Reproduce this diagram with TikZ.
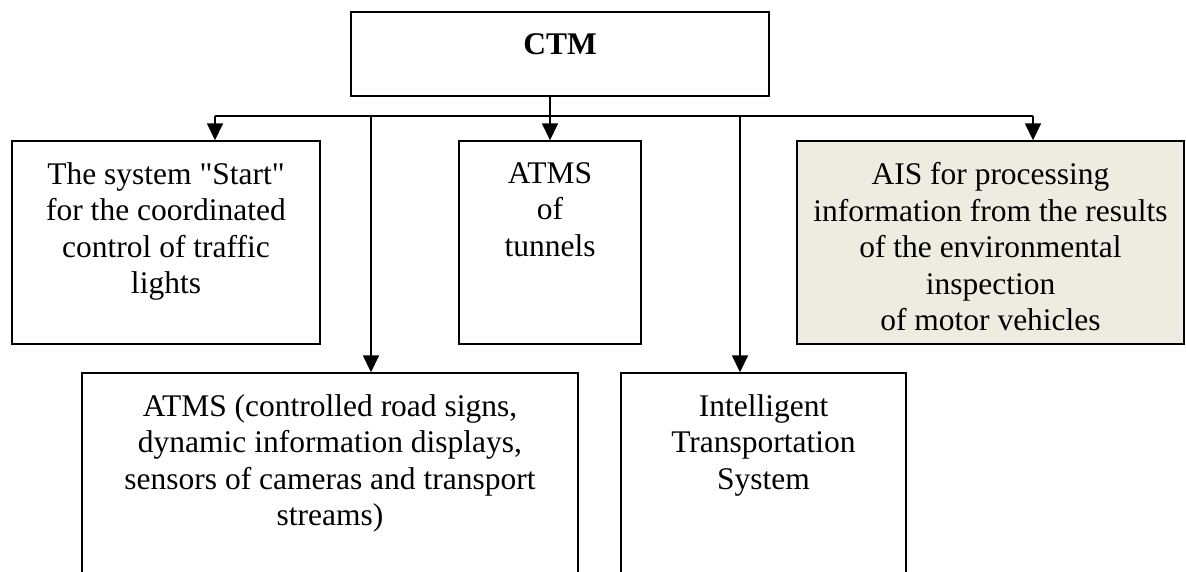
\documentclass[tikz,border=0pt]{standalone}
\usepackage{fontspec}
\setmainfont{Liberation Serif}[Ligatures=TeXOff]
\usetikzlibrary{arrows.meta,positioning}
\usepackage{xcolor}
\definecolor{boxtan}{HTML}{EEECE1}

\tikzset{
  box/.style={draw, line width=1.4pt, inner sep=0pt},
  boxtext/.style={anchor=north, yshift=-20pt, align=center, inner sep=2pt,
    font=\fontsize{31.5}{36.5}\selectfont},
  arr/.style={line width=1.6pt, -{Triangle[length=17pt,width=16pt]}}
}

\begin{document}
\begin{tikzpicture}[x=1pt,y=-1pt]
      \useasboundingbox (0,0) rectangle (1186,572);
      \clip (0,0) rectangle (1186,572);

      % top box
      \node[box, minimum width=418pt, minimum height=84pt,
        label={[boxtext]north:\textbf{CTM}}] (ctm) at (560,54) {};

      % first row
      \node[box, minimum width=308pt, minimum height=203pt,
        label={[boxtext]north:The system "Start"\\for the coordinated\\control of traffic\\lights}] (start) at (166,242.5) {};
      \node[box, minimum width=182pt, minimum height=203pt,
        label={[boxtext]north:ATMS\\of\\tunnels}] (tunnels) at (550,242.5) {};
      \node[box, fill=boxtan, minimum width=387pt, minimum height=203pt,
        label={[boxtext]north:AIS for processing\\information from the results\\of the environmental\\inspection\\of motor vehicles}] (ais) at (990.5,242.5) {};

      % second row
      \node[box, minimum width=496pt, minimum height=260pt,
        label={[boxtext]north:ATMS (controlled road signs,\\dynamic information displays,\\sensors of cameras and transport\\streams)}] (atms) at (330,503) {};
      \node[box, minimum width=285pt, minimum height=260pt,
        label={[boxtext]north:Intelligent\\Transportation\\System}] (its) at (763.5,503) {};

      % bus
      \coordinate (b1) at (215,116);
      \coordinate (b2) at (371,116);
      \coordinate (b4) at (740,116);
      \coordinate (b5) at (1033,116);

      \draw[line width=1.6pt] (b1) -- (b5);
      \draw[arr] (tunnels.north |- ctm.south) -- (tunnels.north);
      \draw[arr] (b1) -- (b1 |- start.north);
      \draw[arr] (b2) -- (b2 |- atms.north);
      \draw[arr] (b4) -- (b4 |- its.north);
      \draw[arr] (b5) -- (b5 |- ais.north);
    \end{tikzpicture}
\end{document}
